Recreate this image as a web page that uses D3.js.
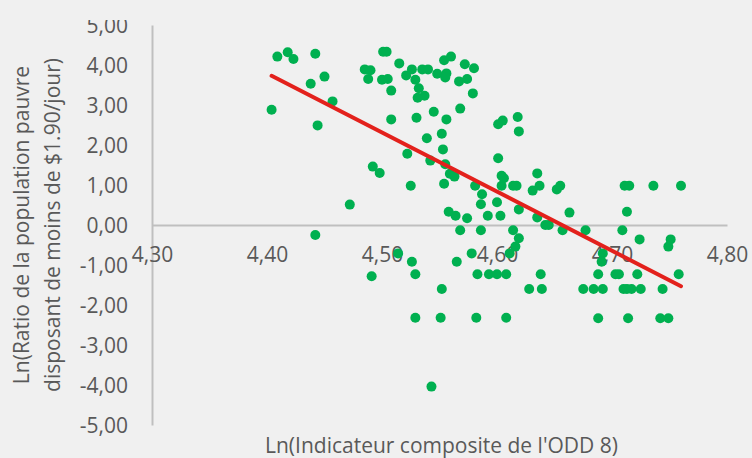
<!DOCTYPE html>
<html>
<head>
<meta charset="utf-8">
<script src="https://cdn.jsdelivr.net/npm/d3@7"></script>
<style>
  body { margin: 0; background: #f0f0f0; }
  svg { display: block; font-family: "Open Sans", sans-serif; }
</style>
</head>
<body>
<div id="chart"></div>
<script>
// Ln(ODD 8 composite) vs Ln(poverty ratio at $1.90/day)
const xValues = [
  4.409, 4.418, 4.423, 4.442, 4.450, 4.438, 4.457, 4.404, 4.444, 4.442,
  4.472, 4.501, 4.504, 4.515, 4.485, 4.490, 4.488, 4.500, 4.505, 4.508,
  4.521, 4.526, 4.535, 4.540, 4.529, 4.532, 4.537, 4.531, 4.554, 4.560,
  4.548, 4.556, 4.555, 4.567, 4.574, 4.572, 4.580, 4.579, 4.568, 4.545,
  4.556, 4.530, 4.508, 4.552, 4.539, 4.553, 4.522, 4.542, 4.601, 4.605,
  4.618, 4.619, 4.601, 4.492, 4.498, 4.555, 4.559, 4.563, 4.554, 4.525,
  4.581, 4.587, 4.586, 4.600, 4.604, 4.606, 4.604, 4.614, 4.617, 4.635,
  4.631, 4.637, 4.619, 4.603, 4.592, 4.558, 4.564, 4.574, 4.635, 4.568,
  4.586, 4.614, 4.619, 4.616, 4.611, 4.514, 4.578, 4.526, 4.565, 4.491,
  4.529, 4.583, 4.593, 4.600, 4.608, 4.552, 4.628, 4.638, 4.639, 4.652,
  4.655, 4.642, 4.645, 4.657, 4.663, 4.677, 4.711, 4.715, 4.736, 4.760,
  4.713, 4.709, 4.724, 4.751, 4.749, 4.692, 4.691, 4.688, 4.703, 4.706,
  4.722, 4.758, 4.675, 4.684, 4.692, 4.710, 4.713, 4.717, 4.725, 4.744,
  4.529, 4.551, 4.582, 4.608, 4.688, 4.714, 4.742, 4.749, 4.543
]
const yValues = [
  4.21, 4.32, 4.15, 4.28, 3.71, 3.53, 3.09, 2.88, 2.49, -0.25,
  0.51, 4.33, 4.33, 4.04, 3.89, 3.87, 3.65, 3.63, 3.65, 3.36,
  3.74, 3.89, 3.89, 3.89, 3.63, 3.42, 3.23, 3.18, 4.12, 4.21,
  3.78, 3.79, 3.69, 3.59, 3.65, 4.02, 3.92, 3.29, 2.91, 2.83,
  2.64, 2.68, 2.64, 2.28, 2.17, 1.89, 1.78, 1.61, 2.52, 2.61,
  2.70, 2.34, 1.67, 1.46, 1.30, 1.52, 1.28, 1.21, 1.03, 0.98,
  0.98, 0.77, 0.52, 0.57, 1.23, 1.17, 0.98, 0.98, 0.98, 1.29,
  0.86, 0.98, 0.39, 0.23, 0.23, 0.33, 0.23, 0.17, 0.19, -0.13,
  -0.13, -0.13, -0.33, -0.54, -0.71, -0.71, -0.71, -0.92, -0.92, -1.28,
  -1.23, -1.23, -1.23, -1.23, -1.23, -1.60, -1.60, -1.23, -1.60, 0.89,
  0.98, 0.00, 0.00, -0.13, 0.31, -0.13, 0.98, 0.98, 0.98, 0.98,
  0.33, -0.13, -0.36, -0.36, -0.54, -0.71, -0.92, -1.23, -1.23, -1.23,
  -1.23, -1.23, -1.60, -1.60, -1.60, -1.60, -1.60, -1.60, -1.60, -1.60,
  -2.32, -2.32, -2.32, -2.32, -2.33, -2.33, -2.33, -2.33, -4.04
]
// linear trendline, from min x to max x
const trendX = [4.404, 4.760]
const trendY = [3.73, -1.53]

const xTicks = [4.30, 4.40, 4.50, 4.60, 4.70, 4.80]
const yTicks = [5, 4, 3, 2, 1, 0, -1, -2, -3, -4, -5]

const xTitle = "Ln(Indicateur composite de l'ODD 8)"
const yTitle = ["Ln(Ratio de la population pauvre", "disposant de moins de $1.90/jour)"]

const totalW = 752, totalH = 458
const margin = { top: 25, right: 25, bottom: 33, left: 152 },
  width = totalW - margin.left - margin.right,
  height = totalH - margin.top - margin.bottom

const fr = d3.formatLocale({ decimal: ",", thousands: " ", grouping: [3], currency: ["", ""], minus: "-" })
const fmt = fr.format(".2f")

const root = d3.select("#chart")
  .append("svg")
    .attr("width", totalW)
    .attr("height", totalH)
    .style("background", "#f0f0f0")

// the picture is cut a few pixels above the top tick label
root.append("defs").append("clipPath")
    .attr("id", "frame")
  .append("rect")
    .attr("x", 0)
    .attr("y", 20)
    .attr("width", totalW)
    .attr("height", totalH - 20)

const svg = root.append("g")
    .attr("clip-path", "url(#frame)")
  .append("g")
    .attr("transform", `translate(${margin.left},${margin.top})`)

const x = d3.scaleLinear().domain([4.30, 4.80]).range([0, width])
const y = d3.scaleLinear().domain([-5, 5]).range([height, 0])

const textColor = "#595959"
const axisColor = "#bfbfbf"

// vertical axis
svg.append("g")
  .attr("id", "y-axis")
  .call(d3.axisLeft(y).tickValues(yTicks).tickSize(0).tickPadding(24).tickFormat(fmt))
  .call(g => g.select(".domain").attr("stroke", axisColor).attr("stroke-width", 2))
  .call(g => g.selectAll("text")
    .attr("fill", textColor)
    .attr("font-size", "21px")
    .attr("font-family", "\"Open Sans\", sans-serif")
    .attr("dy", "0.36em"))

// horizontal axis crosses at y = 0
svg.append("g")
  .attr("id", "x-axis")
  .attr("transform", `translate(0, ${y(0)})`)
  .call(d3.axisBottom(x).tickValues(xTicks).tickSize(0).tickPadding(22).tickFormat(fmt))
  .call(g => g.select(".domain").attr("stroke", axisColor).attr("stroke-width", 2))
  .call(g => g.selectAll("text")
    .attr("fill", textColor)
    .attr("font-size", "21px")
    .attr("font-family", "\"Open Sans\", sans-serif"))

// axis titles
svg.append("text")
  .attr("x", width / 2 + 2)
  .attr("y", height + 28)
  .attr("text-anchor", "middle")
  .attr("font-size", "21px")
  .attr("fill", textColor)
  .text(xTitle)

svg.selectAll(".ytitle")
  .data(yTitle)
  .join("text")
    .attr("class", "ytitle")
    .attr("transform", (d, i) => `translate(${-123 + i * 31}, ${y(0)}) rotate(-90)`)
    .attr("text-anchor", "middle")
    .attr("font-size", "21px")
    .attr("fill", textColor)
    .text(d => d)

// points
svg.append("g")
  .selectAll("circle")
  .data(d3.range(xValues.length))
  .join("circle")
    .attr("cx", i => x(xValues[i]))
    .attr("cy", i => y(yValues[i]))
    .attr("r", 5)
    .style("fill", "#00b050")

// trendline
svg.append("line")
  .attr("x1", x(trendX[0]))
  .attr("y1", y(trendY[0]))
  .attr("x2", x(trendX[1]))
  .attr("y2", y(trendY[1]))
  .attr("stroke", "#e3211c")
  .attr("stroke-width", 4)
  .attr("stroke-linecap", "round")
</script>
</body>
</html>
